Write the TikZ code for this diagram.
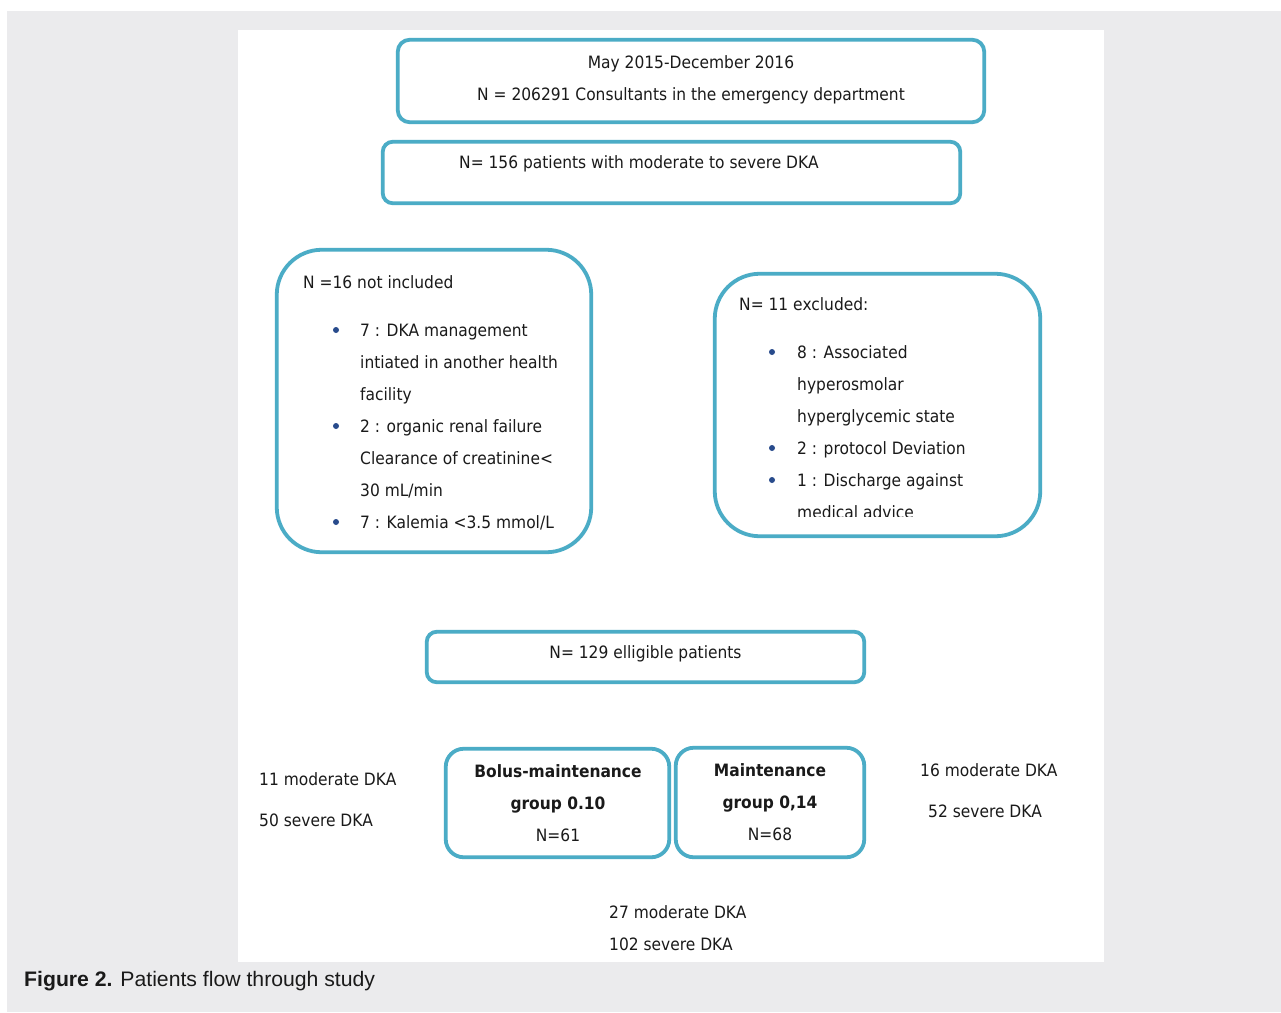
\documentclass[tikz,border=0pt]{standalone}
\usepackage{fontspec}
\setmainfont{DejaVu Sans}[FakeStretch=0.91]
\newfontfamily\capfont{Liberation Sans}[FakeStretch=1.01]
\definecolor{boxblue}{RGB}{75,172,198}
\definecolor{bggray}{RGB}{235,235,237}
\definecolor{bulletblue}{RGB}{40,75,140}
\definecolor{txt}{RGB}{26,26,26}
\begin{document}
\begin{tikzpicture}[x=1pt,y=-1pt,
  flowbox/.style={draw=boxblue, line width=3.8pt, fill=white, inner sep=0pt},
  lbl/.style={font=\fontsize{17}{20}\selectfont, text=txt, inner sep=0pt, anchor=mid west, yshift=-3.5pt},
  clbl/.style={lbl, anchor=mid},
  blbl/.style={clbl, font=\fontsize{17}{20}\selectfont\bfseries},
  dot/.style={circle, fill=bulletblue, inner sep=0pt, minimum size=6pt}
]
\useasboundingbox (0,0) rectangle (1281,1012);
\fill[white] (0,0) rectangle (1281,1012);
\fill[bggray] (7,11) rectangle (1281,1012);
\fill[white] (238,30) rectangle (1104,962);

% top boxes
\node[flowbox, rounded corners=12pt, minimum width=586.5pt, minimum height=82.5pt] (top) at (691,81) {};
\node[clbl] (t1) at (691,62) {May 2015-December 2016};
\node[clbl] (t2) at (691,94) {N = 206291 Consultants in the emergency department};

\node[flowbox, rounded corners=10pt, minimum width=577.5pt, minimum height=61.5pt] (dka) at (671.5,172.5) {};
\node[lbl] (d1) at (459,162) {N= 156 patients with moderate to severe DKA};

% left box
\node[flowbox, rounded corners=45pt, minimum width=314.5pt, minimum height=302.5pt] (notinc) at (434,401) {};
\node[lbl] (n0) at (303,282) {N =16 not included};
\node[dot] (nb1) at (336,330) {};
\node[lbl] (n1) at (360,330) {7 : DKA management};
\node[lbl] (n2) at (360,362) {intiated in another health};
\node[lbl] (n3) at (360,394) {facility};
\node[dot] (nb2) at (336,426) {};
\node[lbl] (n4) at (360,426) {2 : organic renal failure};
\node[lbl] (n5) at (360,458) {Clearance of creatinine<};
\node[lbl] (n6) at (360,490) {30 mL/min};
\node[dot] (nb3) at (336,522) {};
\node[lbl] (n7) at (360,522) {7 : Kalemia <3.5 mmol/L};

% right box
\node[flowbox, rounded corners=45pt, minimum width=325.5pt, minimum height=262.5pt] (excl) at (877.5,405) {};
\node[lbl] (e0) at (739,304) {N= 11 excluded:};
\node[dot] (eb1) at (772,352) {};
\node[lbl] (e1) at (797,352) {8 : Associated};
\node[lbl] (e2) at (797,384) {hyperosmolar};
\node[lbl] (e3) at (797,416) {hyperglycemic state};
\node[dot] (eb2) at (772,448) {};
\node[lbl] (e4) at (797,448) {2 : protocol Deviation};
\node[dot] (eb3) at (772,480) {};
\node[lbl] (e5) at (797,480) {1 : Discharge against};
\begin{scope}
\clip (713,272) rectangle (1042,516);
\node[lbl] (e6) at (797,512) {medical advice};
\end{scope}

% eligible
\node[flowbox, rounded corners=10pt, minimum width=437.5pt, minimum height=50.5pt] (elig) at (645.5,657) {};
\node[clbl] (el1) at (645.5,652) {N= 129 elligible patients};

% groups
\node[flowbox, rounded corners=18pt, minimum width=223.5pt, minimum height=108.5pt] (bolus) at (557.5,803) {};
\node[blbl] (g1) at (558,771) {Bolus-maintenance};
\node[blbl] (g2) at (558,803) {group 0.10};
\node[clbl] (g3) at (558,835) {N=61};

\node[flowbox, rounded corners=18pt, minimum width=188.5pt, minimum height=109.5pt] (maint) at (770,802.5) {};
\node[blbl] (m1) at (770,770) {Maintenance};
\node[blbl] (m2) at (770,802) {group 0,14};
\node[clbl] (m3) at (770,834) {N=68};

% side texts
\node[lbl] (l1) at (259,779) {11 moderate DKA};
\node[lbl] (l2) at (259,820) {50 severe DKA};
\node[lbl] (r1) at (920,770) {16 moderate DKA};
\node[lbl] (r2) at (928,811) {52 severe DKA};
\node[lbl] (s1) at (609,912) {27 moderate DKA};
\node[lbl] (s2) at (609,944) {102 severe DKA};

% caption
\node[anchor=mid west, inner sep=0pt, text=txt, yshift=-4pt, font=\capfont\fontsize{21}{25}\selectfont] (cap) at (24,980) {\textbf{Figure 2.} Patients flow through study};
\end{tikzpicture}
\end{document}
